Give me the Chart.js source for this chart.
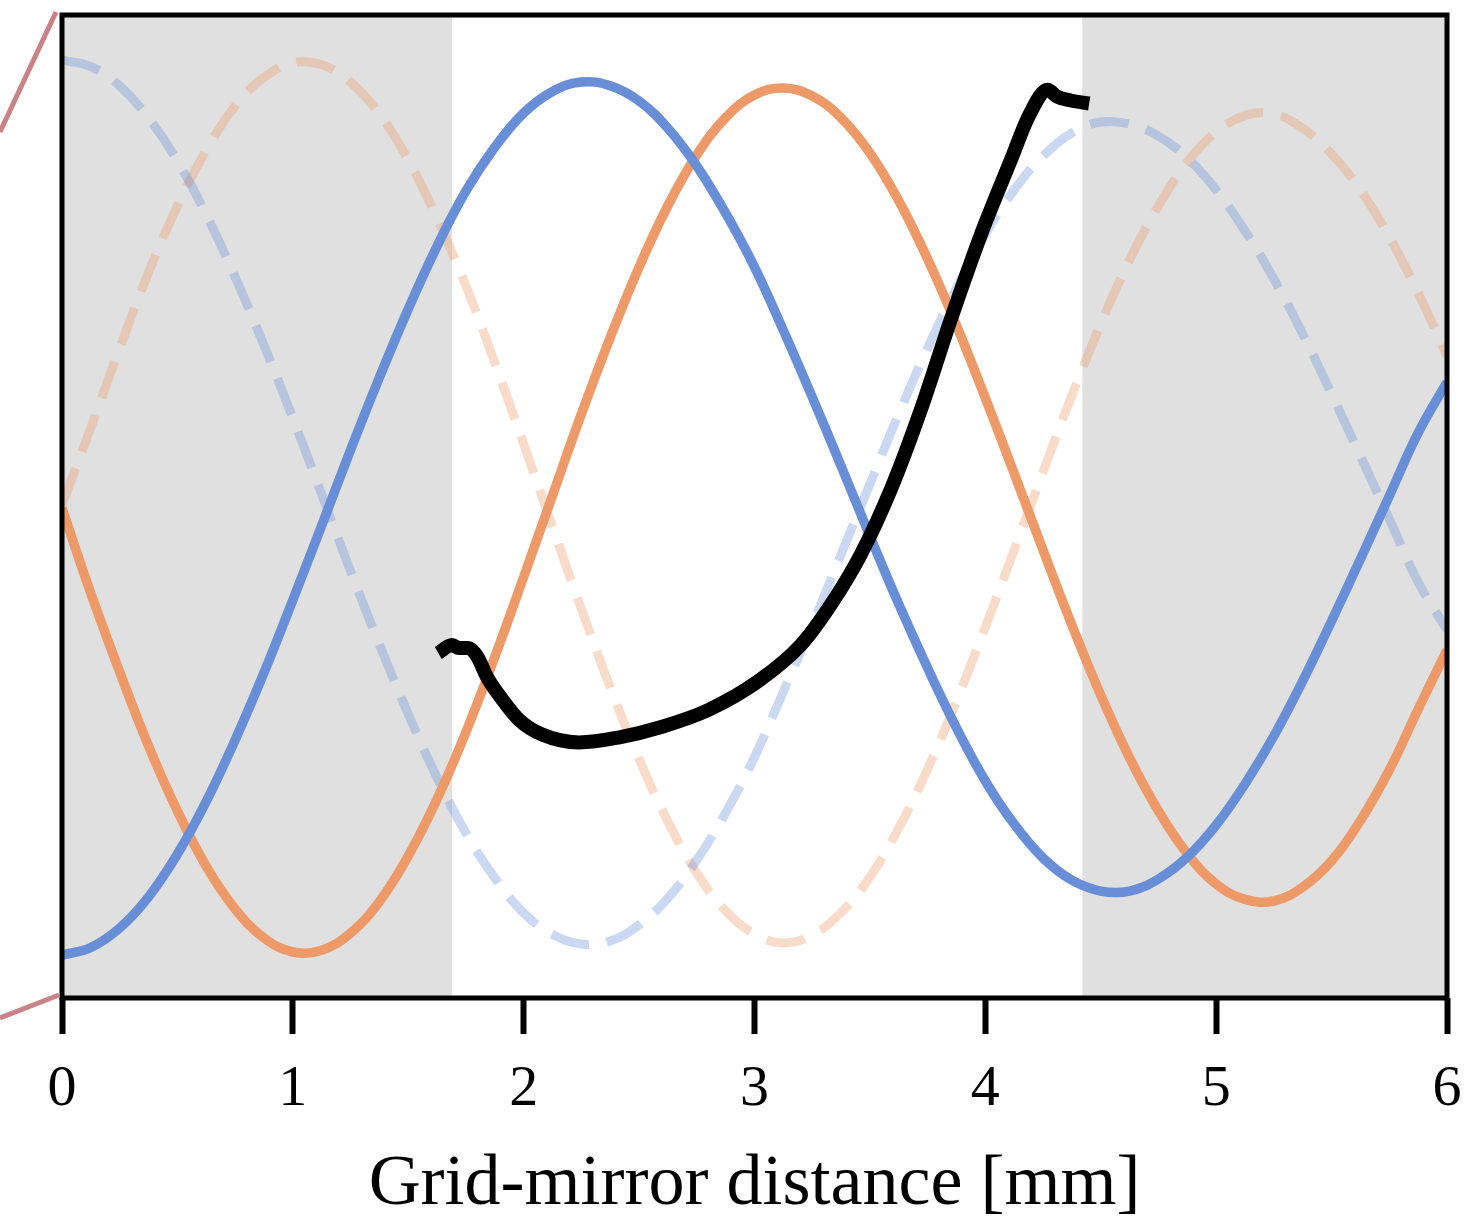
<!DOCTYPE html>
<html>
<head>
<meta charset="utf-8">
<script src="https://cdn.jsdelivr.net/npm/chart.js@4"></script>
<style>
  html, body { margin: 0; padding: 0; background: #fff; }
  #wrap { width: 1481px; height: 1223px; }
</style>
</head>
<body>
<div id="wrap"><canvas id="mirrorChart"></canvas></div>
<script>
// grid-mirror distance samples [mm], every 0.125 mm
const distances = [0, 0.125, 0.25, 0.375, 0.5, 0.625, 0.75, 0.875, 1, 1.125, 1.25, 1.375,
  1.5, 1.625, 1.75, 1.875, 2, 2.125, 2.25, 2.375, 2.5, 2.625, 2.75, 2.875,
  3, 3.125, 3.25, 3.375, 3.5, 3.625, 3.75, 3.875, 4, 4.125, 4.25, 4.375,
  4.5, 4.625, 4.75, 4.875, 5, 5.125, 5.25, 5.375, 5.5, 5.625, 5.75, 5.875, 6];

// intensities, arbitrary units (0-100)
const blueSolid = [4.37, 5.14, 7.12, 10.29, 14.65, 20.0, 26.25, 33.10, 40.49, 48.07, 55.75, 63.12,
  70.09, 76.49, 82.10, 86.56, 90.03, 92.22, 93.18, 92.80, 91.25, 88.47, 84.64, 79.84,
  74.36, 67.92, 61.14, 54.12, 47.0, 40.06, 33.57, 27.48, 22.08, 17.68, 14.24, 11.98,
  10.88, 10.88, 12.11, 14.34, 17.60, 21.77, 26.65, 32.25, 38.35, 44.66, 51.07, 57.48, 62.66];
const orangeSolid = [49.85, 41.16, 33.16, 25.64, 19.02, 13.39, 9.05, 6.11, 4.68, 4.86, 6.61, 9.81,
  14.45, 20.24, 27.06, 34.70, 42.83, 51.13, 59.41, 67.20, 74.36, 80.62, 85.76, 89.56,
  91.86, 92.57, 91.76, 89.54, 85.96, 81.10, 75.18, 68.43, 61.04, 53.36, 45.57, 37.94,
  30.82, 24.43, 19.02, 14.67, 11.60, 10.03, 9.87, 11.28, 13.94, 18.05, 23.19, 29.37, 35.40];
const blueDashed = [95.42, 94.75, 92.78, 89.52, 85.15, 79.68, 73.35, 66.40, 59.00, 51.23, 43.44, 35.97,
  28.89, 22.41, 16.79, 12.21, 8.65, 6.47, 5.49, 5.79, 7.43, 10.17, 14.04, 18.85,
  24.52, 31.16, 37.94, 45.13, 52.29, 59.43, 66.12, 72.23, 77.72, 82.20, 85.66, 88.00,
  89.11, 88.91, 87.69, 85.45, 82.20, 78.03, 73.14, 67.55, 61.44, 55.14, 48.73, 42.32, 37.44];
const orangeDashed = [50.15, 58.04, 66.12, 73.81, 80.57, 86.27, 90.74, 93.65, 95.12, 94.93, 93.18, 89.91,
  85.25, 79.30, 72.43, 64.61, 56.36, 47.91, 39.57, 31.59, 24.31, 17.94, 12.72, 8.86,
  6.51, 5.60, 6.41, 8.69, 12.31, 17.29, 23.30, 30.21, 37.74, 45.58, 53.51, 61.30,
  68.57, 75.09, 80.57, 85.04, 88.10, 89.76, 89.93, 88.48, 85.86, 82.20, 77.42, 71.72, 65.31];

// measured trace
const traceX = [1.63, 1.69, 1.72, 1.76, 1.80, 1.84, 1.90, 1.98, 2.08, 2.24, 2.41, 2.60, 2.80,
  3.02, 3.20, 3.33, 3.46, 3.59, 3.72, 3.85, 3.98, 4.11, 4.19, 4.27, 4.31, 4.37, 4.45];
const traceY = [35.1, 35.9, 35.6, 35.6, 34.7, 32.7, 30.6, 28.3, 26.8, 26.0, 26.5, 27.6, 29.3,
  32.3, 35.9, 40.0, 45.1, 51.7, 59.8, 69.0, 77.6, 85.2, 89.8, 92.4, 91.7, 91.3, 91.0];

// shaded distance ranges [mm]
const shadeRanges = [[0, 1.69], [4.42, 6]];

const xTicks = [0, 1, 2, 3, 4, 5, 6];

const BLUE = 'rgb(104,142,216)';
const ORANGE = 'rgb(238,153,104)';
const fontFamily = '"Liberation Serif", "DejaVu Serif", serif';

const pts = (xs, ys) => xs.map((x, i) => ({ x: x, y: ys[i] }));

const shading = {
  id: 'shading',
  beforeDatasetsDraw(chart) {
    const { ctx, chartArea, scales } = chart;
    ctx.save();
    ctx.fillStyle = '#e0e0e0';
    shadeRanges.forEach(([a, b]) => {
      const x0 = scales.x.getPixelForValue(a);
      const x1 = scales.x.getPixelForValue(b);
      ctx.fillRect(x0, chartArea.top, x1 - x0, chartArea.bottom - chartArea.top);
    });
    ctx.restore();
  }
};

const frame = {
  id: 'frame',
  afterDraw(chart) {
    const { ctx, chartArea } = chart;
    ctx.save();
    ctx.strokeStyle = '#000';
    ctx.lineWidth = 5;
    ctx.strokeRect(chartArea.left, chartArea.top,
      chartArea.right - chartArea.left, chartArea.bottom - chartArea.top);
    // zoom connector lines on the left
    ctx.strokeStyle = '#c98387';
    ctx.lineWidth = 5;
    ctx.beginPath();
    ctx.moveTo(chartArea.left - 6, chartArea.top - 3);
    ctx.lineTo(0, 132);
    ctx.moveTo(chartArea.left - 3, chartArea.bottom - 3);
    ctx.lineTo(0, 1018);
    ctx.stroke();
    ctx.restore();
  }
};

const wave = { tension: 0.4, pointRadius: 0 };

new Chart(document.getElementById('mirrorChart'), {
  type: 'line',
  data: {
    datasets: [
      {
        data: pts(traceX, traceY),
        borderColor: '#000',
        borderWidth: 14,
        borderJoinStyle: 'round',
        cubicInterpolationMode: 'monotone',
        pointRadius: 0
      },
      {
        ...wave,
        data: pts(distances, blueSolid),
        borderColor: BLUE,
        borderWidth: 9.5
      },
      {
        ...wave,
        data: pts(distances, orangeSolid),
        borderColor: ORANGE,
        borderWidth: 9.5
      },
      {
        ...wave,
        data: pts(distances, blueDashed),
        borderColor: 'rgba(104,142,216,0.35)',
        borderWidth: 9,
        borderDash: [39, 18]
      },
      {
        ...wave,
        data: pts(distances, orangeDashed),
        borderColor: 'rgba(238,153,104,0.35)',
        borderWidth: 9,
        borderDash: [39, 18]
      }
    ]
  },
  options: {
    responsive: true,
    maintainAspectRatio: false,
    animation: false,
    layout: {
      padding: { left: 62, right: 34, top: 15, bottom: 2 }
    },
    plugins: {
      legend: { display: false },
      tooltip: { enabled: false }
    },
    scales: {
      x: {
        type: 'linear',
        min: 0,
        max: 6,
        afterBuildTicks(axis) {
          axis.ticks = xTicks.map(v => ({ value: v }));
        },
        grid: {
          drawOnChartArea: false,
          drawTicks: true,
          tickLength: 36,
          tickWidth: 6,
          tickColor: '#000'
        },
        border: { display: false },
        ticks: {
          maxRotation: 0,
          padding: 10,
          color: '#000',
          font: { family: fontFamily, size: 58, lineHeight: 1.586 }
        },
        title: {
          display: true,
          text: 'Grid-mirror distance [mm]',
          color: '#000',
          padding: { top: 3, bottom: 0 },
          font: { family: fontFamily, size: 72, lineHeight: 1 }
        }
      },
      y: {
        display: false,
        min: 0,
        max: 100
      }
    }
  },
  plugins: [shading, frame]
});
</script>
</body>
</html>
